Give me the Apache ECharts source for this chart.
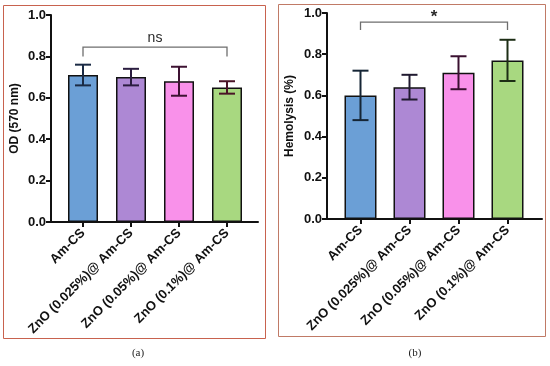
<!DOCTYPE html>
<html>
<head>
<meta charset="utf-8">
<script src="https://cdn.jsdelivr.net/npm/echarts@6/dist/echarts.min.js"></script>
<style>html,body{margin:0;padding:0;background:#fff}#c{width:550px;height:366px}</style>
</head>
<body>
<div id="c"></div>
<script>
var categories = ['Am-CS', 'ZnO (0.025%)@ Am-CS', 'ZnO (0.05%)@ Am-CS', 'ZnO (0.1%)@ Am-CS'];
var odMean = [0.71, 0.70, 0.68, 0.65];
var odLow = [0.66, 0.66, 0.61, 0.62];
var odHigh = [0.76, 0.74, 0.75, 0.68];
var hemoMean = [0.60, 0.64, 0.71, 0.77];
var hemoLow = [0.48, 0.58, 0.63, 0.67];
var hemoHigh = [0.72, 0.70, 0.79, 0.87];
var yTicks = [0.0, 0.2, 0.4, 0.6, 0.8, 1.0];
var odBracket = [0, 3, 0.845, 0.80];   // from cat, to cat, bracket level, leg end
var hemoBracket = [0, 3, 0.956, 0.917];
var sigLabels = ['ns', '*'];
var yNames = ['OD (570 nm)', 'Hemolysis (%)'];
var captions = ['(a)', '(b)'];

var barColors = ['#6b9fd6', '#ad88d4', '#f991ea', '#a8d880'];
var errColorsA = ['#1b2b45', '#2b1d40', '#3d1232', '#4a1426'];
var errColorsB = ['#152535', '#201a30', '#3a1030', '#1d2e15'];

var chart = echarts.init(document.getElementById('c'));

function barData(vals) {
  return vals.map(function (v, i) {
    return { value: v, itemStyle: { color: barColors[i] } };
  });
}
function errData(lo, hi) {
  return lo.map(function (l, i) { return [i, l, hi[i]]; });
}
function errRender(colors) {
  return function (params, api) {
    var i = api.value(0);
    var p1 = api.coord([i, api.value(1)]);
    var p2 = api.coord([i, api.value(2)]);
    var w = 8;
    var st = { stroke: colors[i], lineWidth: 2 };
    return {
      type: 'group',
      children: [
        { type: 'line', shape: { x1: p1[0], y1: p1[1], x2: p2[0], y2: p2[1] }, style: st },
        { type: 'line', shape: { x1: p1[0] - w, y1: p1[1], x2: p1[0] + w, y2: p1[1] }, style: st },
        { type: 'line', shape: { x1: p2[0] - w, y1: p2[1], x2: p2[0] + w, y2: p2[1] }, style: st }
      ]
    };
  };
}
function bracketRender(label, font, dy) {
  return function (params, api) {
    var a = api.coord([api.value(0), api.value(2)]);
    var b = api.coord([api.value(1), api.value(2)]);
    var legA = api.coord([api.value(0), api.value(3)]);
    var legB = api.coord([api.value(1), api.value(3)]);
    return {
      type: 'group',
      children: [
        { type: 'polyline', shape: { points: [[legA[0], legA[1]], [a[0], a[1]], [b[0], b[1]], [legB[0], legB[1]]] },
          style: { stroke: '#6e6e6e', lineWidth: 1.3, fill: null } },
        { type: 'text', style: { text: label, x: (a[0] + b[0]) / 2, y: a[1] - dy, align: 'center', verticalAlign: 'middle', font: font, fill: '#2a2a2a' } }
      ]
    };
  };
}

var fontFam = 'Liberation Sans, Arial, sans-serif';

function catAxis(gi) {
  return {
    type: 'category', gridIndex: gi, data: categories,
    axisLine: { show: false },
    axisTick: { show: true, alignWithLabel: true, length: 5, lineStyle: { color: '#111', width: 2 } },
    axisLabel: { rotate: 45, interval: 0, margin: 9, color: '#111', fontWeight: 'bold', fontSize: 13, fontFamily: fontFam },
    splitLine: { show: false }
  };
}
function valAxis(gi, name, off, gap) {
  return {
    type: 'value', gridIndex: gi, min: 0, max: 1, interval: 0.2, offset: off,
    name: name, nameLocation: 'middle', nameGap: gap, nameRotate: 90,
    nameTextStyle: { color: '#111', fontWeight: 'bold', fontSize: 12, fontFamily: fontFam },
    axisLine: { show: true, lineStyle: { color: '#111', width: 2 } },
    axisTick: { show: true, length: 5, lineStyle: { color: '#111', width: 2 } },
    axisLabel: { color: '#111', fontWeight: 'bold', fontSize: 13, fontFamily: fontFam, margin: 5,
      formatter: function (v) { return v.toFixed(1); } },
    splitLine: { show: false }
  };
}
function lineXAxis(gi) {
  return { type: 'value', gridIndex: gi, min: 0, max: 1, axisLine: { show: true, onZero: false, lineStyle: { color: '#111', width: 2 } },
    axisTick: { show: false }, axisLabel: { show: false }, splitLine: { show: false } };
}
function hiddenY(gi) {
  return { type: 'value', gridIndex: gi, min: 0, max: 1, show: false };
}

chart.setOption({
  animation: false,
  backgroundColor: '#fff',
  grid: [
    { left: 59, top: 15, width: 192, height: 207, outerBoundsMode: 'none', containLabel: false },
    { left: 51, top: 15, width: 207, height: 207, outerBoundsMode: 'none', containLabel: false },
    { left: 336, top: 13, width: 196, height: 206, outerBoundsMode: 'none', containLabel: false },
    { left: 327, top: 13, width: 215, height: 206, outerBoundsMode: 'none', containLabel: false }
  ],
  xAxis: [catAxis(0), lineXAxis(1), catAxis(2), lineXAxis(3)],
  yAxis: [valAxis(0, yNames[0], 8, 30), hiddenY(1), valAxis(2, yNames[1], 9, 31), hiddenY(3)],
  series: [
    { type: 'bar', xAxisIndex: 0, yAxisIndex: 0, data: barData(odMean), barWidth: 30,
      itemStyle: { borderColor: '#111', borderWidth: 1.5 } },
    { type: 'custom', xAxisIndex: 0, yAxisIndex: 0, data: errData(odLow, odHigh), renderItem: errRender(errColorsA), z: 5 },
    { type: 'custom', xAxisIndex: 0, yAxisIndex: 0, data: [odBracket], renderItem: bracketRender(sigLabels[0], '14px ' + fontFam, 9), z: 5 },
    { type: 'bar', xAxisIndex: 2, yAxisIndex: 2, data: barData(hemoMean), barWidth: 32,
      itemStyle: { borderColor: '#111', borderWidth: 1.5 } },
    { type: 'custom', xAxisIndex: 2, yAxisIndex: 2, data: errData(hemoLow, hemoHigh), renderItem: errRender(errColorsB), z: 5 },
    { type: 'custom', xAxisIndex: 2, yAxisIndex: 2, data: [hemoBracket], renderItem: bracketRender(sigLabels[1], 'bold 17px ' + fontFam, 5), z: 5 }
  ],
  graphic: [
    { type: 'rect', shape: { x: 3.5, y: 5.5, width: 262, height: 333 }, style: { fill: null, stroke: '#c8624e', lineWidth: 1 } },
    { type: 'rect', shape: { x: 278.5, y: 4.5, width: 267, height: 332 }, style: { fill: null, stroke: '#c07a66', lineWidth: 1 } },
    { type: 'text', style: { text: captions[0], x: 138, y: 353, align: 'center', verticalAlign: 'middle', font: '11px "Liberation Serif", serif', fill: '#222' } },
    { type: 'text', style: { text: captions[1], x: 415, y: 353, align: 'center', verticalAlign: 'middle', font: '11px "Liberation Serif", serif', fill: '#222' } }
  ]
});
</script>
</body>
</html>
